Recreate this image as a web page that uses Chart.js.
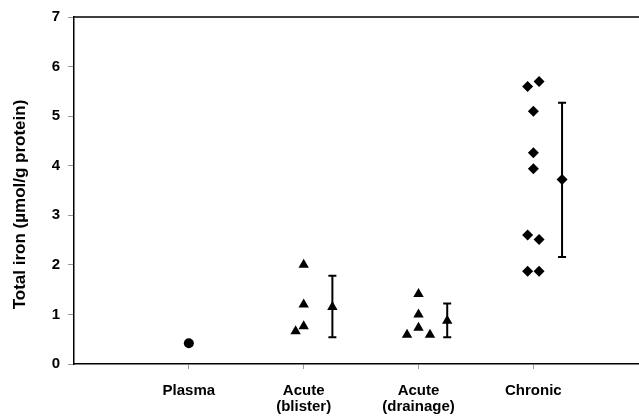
<!DOCTYPE html>
<html>
<head>
<meta charset="utf-8">
<script src="https://cdn.jsdelivr.net/npm/chart.js@4/dist/chart.umd.min.js"></script>
<style>
  html, body { margin: 0; padding: 0; background: #fff; overflow: hidden; }
</style>
</head>
<body>
<canvas id="chart" width="639" height="418"></canvas>
<script>
// groups on the x axis (value 1..4)
const categories = ['Plasma', ['Acute', '(blister)'], ['Acute', '(drainage)'], 'Chronic'];
const categoryPos = [1, 2, 3, 4];
const yTitle = 'Total iron (µmol/g protein)';

// individual measurements, total iron (umol/g protein)
const plasmaX = [1];
const plasmaIron = [0.42];
const blisterX = [2, 2, 2, 1.93];
const blisterIron = [2.0, 1.2, 0.76, 0.66];
const drainageX = [3, 3, 3, 2.9, 3.1];
const drainageIron = [1.41, 1.0, 0.73, 0.59, 0.59];
const chronicX = [3.95, 4.05, 4, 4, 4, 3.95, 4.05, 3.95, 4.05];
const chronicIron = [5.6, 5.7, 5.1, 4.26, 3.94, 2.6, 2.51, 1.87, 1.87];

// group means with error bars (blister, drainage, chronic)
const meanX = [2.25, 3.25, 4.25];
const meanIron = [1.15, 0.87, 3.72];
const errLow = [0.54, 0.54, 2.16];
const errHigh = [1.78, 1.22, 5.27];

const yTicks = [0, 1, 2, 3, 4, 5, 6, 7];

function pts(xs, ys) {
    return ys.map((y, i) => ({ x: xs[i], y: y }));
}

const errorBars = {
    id: 'errorBars',
    afterDatasetsDraw(chart) {
        const ctx = chart.ctx;
        const x = chart.scales.x, y = chart.scales.y;
        const area = chart.chartArea;
        ctx.save();
        ctx.strokeStyle = '#000';
        ctx.lineWidth = 2;
        for (let i = 0; i < meanX.length; i++) {
            const px = x.getPixelForValue(meanX[i]);
            const top = y.getPixelForValue(errHigh[i]);
            const bot = y.getPixelForValue(errLow[i]);
            ctx.beginPath();
            ctx.moveTo(px, top); ctx.lineTo(px, bot);
            ctx.moveTo(px - 4, top); ctx.lineTo(px + 4, top);
            ctx.moveTo(px - 4, bot); ctx.lineTo(px + 4, bot);
            ctx.stroke();
        }
        // top frame line
        ctx.lineWidth = 1.5;
        ctx.beginPath();
        ctx.moveTo(area.left, area.top);
        ctx.lineTo(area.right, area.top);
        ctx.stroke();

        // y axis title (sits a little below the axis middle in the original)
        ctx.translate(area.left - 54, (area.top + area.bottom) / 2 + 14);
        ctx.rotate(-Math.PI / 2);
        ctx.fillStyle = '#000';
        ctx.font = 'bold 17px "Liberation Sans"';
        ctx.textAlign = 'center';
        ctx.textBaseline = 'middle';
        ctx.fillText(yTitle, 0, 0);
        ctx.restore();
    }
};

const ctx = document.getElementById('chart').getContext('2d');
const chart = new Chart(ctx, {
    type: 'scatter',
    data: {
        datasets: [
            { data: pts(plasmaX, plasmaIron), pointStyle: 'circle', pointRadius: 5 },
            { data: pts(blisterX, blisterIron), pointStyle: 'triangle', pointRadius: 6 },
            { data: pts(drainageX, drainageIron), pointStyle: 'triangle', pointRadius: 6 },
            { data: pts(chronicX, chronicIron), pointStyle: 'rectRot', pointRadius: 5.5 },
            { data: pts(meanX.slice(0, 2), meanIron.slice(0, 2)), pointStyle: 'triangle', pointRadius: 6 },
            { data: pts(meanX.slice(2), meanIron.slice(2)), pointStyle: 'rectRot', pointRadius: 5.5 }
        ].map(d => Object.assign(d, {
            backgroundColor: '#000',
            borderColor: '#000',
            borderWidth: 0,
            pointHoverRadius: d.pointRadius
        }))
    },
    options: {
        responsive: false,
        animation: false,
        events: [],
        layout: { autoPadding: false, padding: { top: 17, right: 0, bottom: 0, left: 0 } },
        plugins: {
            legend: { display: false },
            tooltip: { enabled: false }
        },
        scales: {
            x: {
                type: 'linear',
                min: 0,
                max: 4.92,
                afterBuildTicks(scale) {
                    scale.ticks = categoryPos.map(v => ({ value: v }));
                },
                afterFit(scale) {
                    scale.height = 54;
                    scale.paddingLeft = 0;
                    scale.paddingRight = 0;
                },
                border: { color: '#000', width: 1.5 },
                grid: { drawOnChartArea: false, tickLength: 5, color: '#999' },
                ticks: {
                    autoSkip: false,
                    maxRotation: 0,
                    padding: 13,
                    color: '#000',
                    font: { family: 'Liberation Sans', size: 15, weight: 'bold', lineHeight: 1.12 },
                    callback: (v) => {
                        const i = categoryPos.indexOf(v);
                        return i >= 0 ? categories[i] : '';
                    }
                }
            },
            y: {
                min: 0,
                max: 7,
                afterBuildTicks(scale) {
                    scale.ticks = yTicks.map(v => ({ value: v }));
                },
                afterFit(scale) { scale.width = 74; },
                border: { color: '#000', width: 1.5 },
                grid: { drawOnChartArea: false, tickLength: 6, color: '#999' },
                ticks: {
                    padding: 8,
                    color: '#000',
                    font: { family: 'Liberation Sans', size: 15, weight: 'bold' }
                }
            }
        }
    },
    plugins: [errorBars]
});
</script>
</body>
</html>
